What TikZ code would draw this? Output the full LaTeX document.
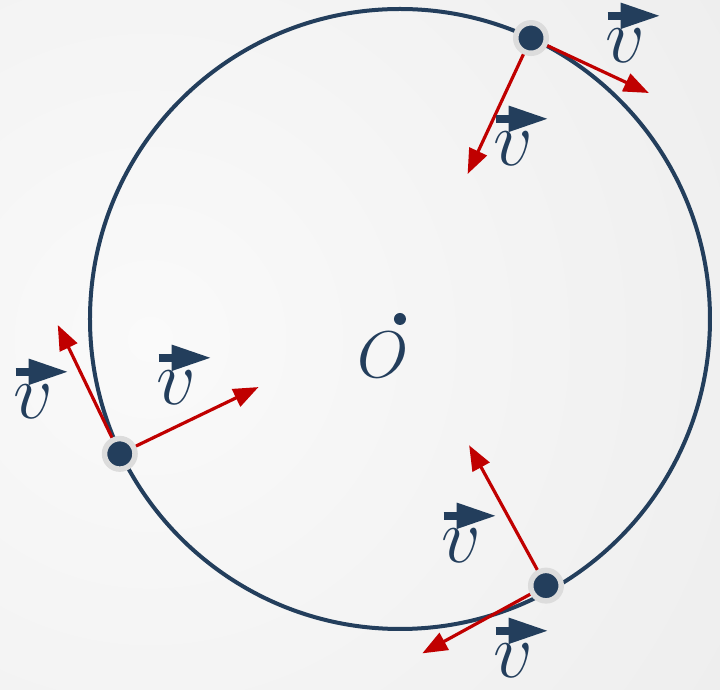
\RequirePackage{fix-cm}
\documentclass[tikz,border=0pt]{standalone}
\usepackage{amsmath}
\usepackage{xcolor}
\usetikzlibrary{arrows.meta,calc,positioning}
\definecolor{navy}{HTML}{233E5C}
\definecolor{velred}{HTML}{C00000}
\definecolor{ringgray}{HTML}{DCDCDC}
\tikzset{
  ptdot/.style={circle, fill=navy, draw=ringgray, line width=2.75pt, minimum size=15.25pt, inner sep=0pt},
  vel/.style={draw=velred, line width=1.6pt, -{Triangle[length=12.5pt,width=9.5pt]}},
  vecarrow/.style={draw=navy, line width=3.8pt, -{Triangle[length=20pt,width=12pt]}},
  vlbl/.style={text=navy, inner sep=0pt, font=\fontsize{39}{39}\selectfont,
    append after command={([xshift=1.5pt,yshift=6.5pt]\tikzlastnode.north west)
      edge[vecarrow] ([xshift=28pt,yshift=6.5pt]\tikzlastnode.north west)}}
}
\begin{document}
\begin{tikzpicture}[x=0.5pt,y=0.5pt]
  \useasboundingbox (-400,-371) rectangle (320,319);
  % Background
  \begin{scope}
    \clip (-400,-371) rectangle (320,319);
    \shade[inner color=white!98!black, outer color=black!11] (-250,-20) circle (1300);
  \end{scope}
  % Define points
  \coordinate (O) at (0,0);
  \draw[navy, line width=2pt] (O) circle (310);
  \fill[navy] (O) circle (6);
  \node[text=navy, inner sep=0pt, font=\fontsize{33}{33}\selectfont] (olbl) at (-17,-36) {$O$};
  \node[ptdot] (p1) at (65:310) {};
  \node[ptdot] (p2) at (205.7:311) {};
  \node[ptdot] (p3) at (298.7:304) {};
  % Velocity tips
  \coordinate (r1) at ($(p1)!75pt!(O)$);
  \coordinate (t1) at ($(p1)!65pt!90:(O)$);
  \coordinate (r2) at ($(p2)!77pt!(O)$);
  \coordinate (t2) at ($(p2)!71.5pt!90:(O)$);
  \coordinate (r3) at ($(p3)!80pt!(O)$);
  \coordinate (t3) at ($(p3)!70.5pt!90:(O)$);
  \draw[vel] (p1) -- (r1);
  \draw[vel] (p1) -- (t1);
  \draw[vel] (p2) -- (r2);
  \draw[vel] (p2) -- (t2);
  \draw[vel] (p3) -- (r3);
  \draw[vel] (p3) -- (t3);
  % Label the vectors
  \node[vlbl] (v1) at (225,273) {$v$};
  \node[vlbl] (v2) at (113,170) {$v$};
  \node[vlbl] (v3) at (-367,-83) {$v$};
  \node[vlbl] (v4) at (-224,-69) {$v$};
  \node[vlbl] (v5) at (61,-227) {$v$};
  \node[vlbl] (v6) at (113,-342) {$v$};
\end{tikzpicture}
\end{document}
